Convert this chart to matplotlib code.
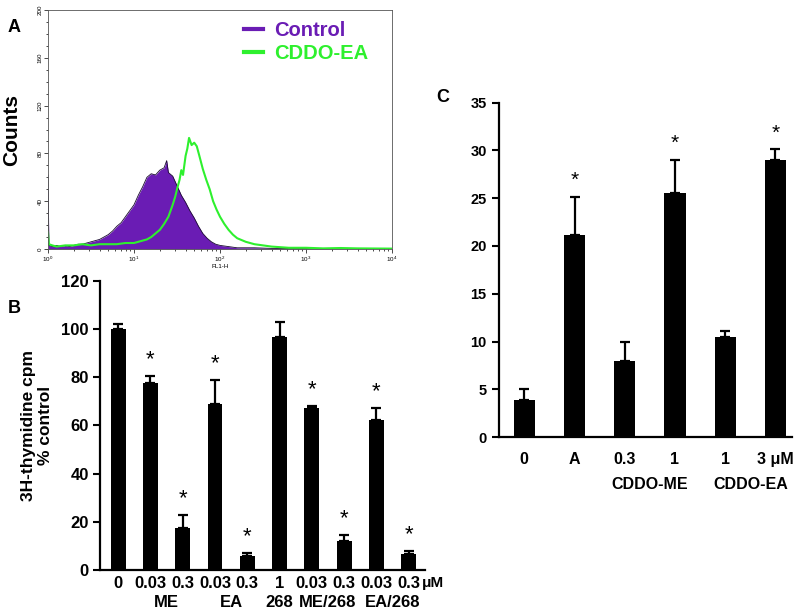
import numpy as np
import matplotlib
matplotlib.use('Agg')
import matplotlib.pyplot as plt
from matplotlib.ticker import MultipleLocator, LogLocator, NullFormatter
from matplotlib.lines import Line2D

plt.rcParams['font.family'] = ['Liberation Sans', 'DejaVu Sans']
plt.rcParams['font.weight'] = 'bold'
plt.rcParams['axes.labelweight'] = 'bold'

# ---- panel A: flow histogram, log10(FL1-H) vs counts
ctrl_log = [0.0, 0.01, 0.05, 0.1, 0.15, 0.2, 0.25, 0.3, 0.35, 0.4, 0.45, 0.5, 0.55,
            0.6, 0.65, 0.7, 0.75, 0.8, 0.85, 0.9, 0.95, 1.0, 1.05, 1.1, 1.15, 1.2,
            1.25, 1.3, 1.35, 1.38, 1.4, 1.45, 1.5, 1.55, 1.6, 1.65, 1.7, 1.75, 1.8,
            1.85, 1.9, 1.95, 2.0, 2.1, 2.2, 2.4, 2.6, 3.0, 4.0]
ctrl_counts = [62, 3, 2, 3, 2, 3, 2, 3, 4, 4, 5, 6, 7,
               8, 10, 12, 15, 19, 22, 27, 32, 37, 45, 52, 60, 63,
               62, 66, 68, 74, 64, 61, 53, 45, 39, 32, 26, 19, 13,
               9, 6, 4, 3, 2, 1, 1, 0.5, 0.3, 0]

ea_log = [0.0, 0.01, 0.05, 0.1, 0.2, 0.3, 0.4, 0.5, 0.6, 0.7, 0.8, 0.9, 1.0, 1.05,
          1.1, 1.15, 1.2, 1.25, 1.3, 1.35, 1.4, 1.45, 1.48, 1.5, 1.53, 1.55, 1.57,
          1.6, 1.62, 1.64, 1.67, 1.7, 1.73, 1.76, 1.8, 1.84, 1.88, 1.92, 1.96, 2.0,
          2.05, 2.1, 2.15, 2.2, 2.3, 2.4, 2.5, 2.6, 2.8, 3.0, 3.2, 3.4, 3.6, 4.0]
ea_counts = [14, 4, 3, 2, 3, 3, 4, 3, 4, 4, 4, 5, 5, 6,
             7, 8, 10, 13, 16, 21, 27, 37, 44, 50, 58, 66, 62,
             78, 84, 93, 87, 89, 86, 78, 67, 58, 50, 40, 33, 27,
             21, 16, 12, 9, 6, 4, 3, 2, 1, 1, 0.5, 0.8, 0.5, 0.3]

# ---- panel B: 3H-thymidine incorporation
b_labels = ['0', '0.03', '0.3', '0.03', '0.3', '1', '0.03', '0.3', '0.03', '0.3']
b_vals = [100, 77.8, 17.3, 69, 6, 96.9, 67.4, 12.2, 62.2, 6.5]
b_err = [2, 2.8, 5.5, 10, 1.2, 6, 0.8, 2.3, 5.2, 1.4]
b_sig = [False, True, True, True, True, False, True, True, True, True]
b_groups = ['ME', 'EA', '268', 'ME/268', 'EA/268']
b_group_idx = [(1, 2), (3, 4), (5, 5), (6, 7), (8, 9)]

# ---- panel C
c_labels = ['0', 'A', '0.3', '1', '1', '3 \u03bcM']
c_vals = [3.9, 21.1, 8.0, 25.5, 10.5, 29.0]
c_err = [1.1, 4.0, 2.0, 3.5, 0.6, 1.1]
c_sig = [False, True, False, True, False, True]
c_groups = ['CDDO-ME', 'CDDO-EA']
c_group_idx = [(2, 3), (4, 5)]

purple = '#6a1cb4'
green = '#2ef02e'

fig = plt.figure(figsize=(8, 6.14), dpi=100)

# ================= A
axA = fig.add_axes([0.06, 0.5945, 0.43, 0.389])
xc = 10 ** np.array(ctrl_log)
xe = 10 ** np.array(ea_log)
axA.fill_between(xc, ctrl_counts, color=purple, lw=0)
axA.plot(xc, ctrl_counts, color='#1a0a30', lw=0.6)
axA.plot(xe, ea_counts, color=green, lw=1.5)
axA.set_xscale('log')
axA.set_xlim(1, 1e4)
axA.set_ylim(0, 200)
axA.yaxis.set_major_locator(MultipleLocator(40))
axA.yaxis.set_minor_locator(MultipleLocator(10))
axA.xaxis.set_minor_locator(LogLocator(base=10, subs=np.arange(2, 10)))
axA.xaxis.set_minor_formatter(NullFormatter())
axA.tick_params(which='both', direction='out', labelsize=4.5, width=0.5, pad=1)
axA.tick_params(which='major', length=3)
axA.tick_params(which='minor', length=1.5)
for lab in axA.get_yticklabels():
    lab.set_rotation(90)
    lab.set_va('center')
    lab.set_fontweight('normal')
for lab in axA.get_xticklabels():
    lab.set_fontweight('normal')
for s in axA.spines.values():
    s.set_linewidth(0.6)
    s.set_color('#555555')
axA.set_xlabel('FL1-H', fontsize=4.5, fontweight='normal', labelpad=0)
axA.set_ylabel('Counts', fontsize=15, fontweight='bold', labelpad=12)
handles = [Line2D([], [], color=purple, lw=3), Line2D([], [], color=green, lw=3)]
leg = axA.legend(handles, ['Control', 'CDDO-EA'], loc='upper right', frameon=False,
                 fontsize=14.5, handlelength=0.9, handletextpad=0.6,
                 bbox_to_anchor=(0.985, 1.03), labelspacing=0.2)
leg.get_texts()[0].set_color(purple)
leg.get_texts()[1].set_color(green)
fig.text(0.018, 0.956, 'A', fontsize=13, ha='center', va='center')

# ================= B
axB = fig.add_axes([0.125, 0.0717, 0.406, 0.4707])
xb = np.arange(len(b_vals))
axB.bar(xb, b_vals, width=0.46, color='black')
axB.errorbar(xb, b_vals, yerr=[np.zeros(len(b_err)), b_err], fmt='none',
             ecolor='black', elinewidth=1.6, capsize=3.5, capthick=1.6)
for i in xb:
    if b_sig[i]:
        axB.annotate('*', (i, b_vals[i] + b_err[i]), xytext=(0, 4),
                     textcoords='offset points', ha='center', va='bottom',
                     fontsize=16, fontweight='normal')
axB.set_xlim(-0.56, 9.5)
axB.set_ylim(0, 120)
axB.yaxis.set_major_locator(MultipleLocator(20))
axB.set_xticks(xb)
axB.set_xticklabels(b_labels)
axB.tick_params(axis='x', length=0, pad=4, labelsize=12)
axB.tick_params(axis='y', direction='out', length=5, width=1.5, labelsize=12, pad=3)
for side in ['top', 'right']:
    axB.spines[side].set_visible(False)
for side in ['left', 'bottom']:
    axB.spines[side].set_linewidth(1.6)
axB.text(9.4, -0.045, '\u03bcM', transform=axB.get_xaxis_transform(),
         ha='left', va='center', fontsize=11)
for name, (i0, i1) in zip(b_groups, b_group_idx):
    axB.text((i0 + i1) / 2, -0.112, name, transform=axB.get_xaxis_transform(),
             ha='center', va='center', fontsize=12)
axB.set_ylabel('3H-thymidine cpm\n% control', fontsize=12.5, fontweight='bold',
               labelpad=6, linespacing=1.15)
fig.text(0.018, 0.497, 'B', fontsize=13, ha='center', va='center')

# ================= C
axC = fig.add_axes([0.624, 0.288, 0.366, 0.545])
xcc = np.arange(len(c_vals))
axC.bar(xcc, c_vals, width=0.42, color='black')
axC.errorbar(xcc, c_vals, yerr=[np.zeros(len(c_err)), c_err], fmt='none',
             ecolor='black', elinewidth=1.6, capsize=3.5, capthick=1.6)
for i in xcc:
    if c_sig[i]:
        axC.annotate('*', (i, c_vals[i] + c_err[i]), xytext=(0, 5),
                     textcoords='offset points', ha='center', va='bottom',
                     fontsize=15, fontweight='normal')
axC.set_xlim(-0.5, 5.33)
axC.set_ylim(0, 35)
axC.yaxis.set_major_locator(MultipleLocator(5))
axC.set_xticks(xcc)
axC.set_xticklabels(c_labels)
axC.tick_params(axis='x', length=0, pad=11, labelsize=11.5)
axC.tick_params(axis='y', direction='out', length=5, width=1.5, labelsize=10.5, pad=4)
for side in ['top', 'right']:
    axC.spines[side].set_visible(False)
for side in ['left', 'bottom']:
    axC.spines[side].set_linewidth(1.6)
for name, (i0, i1) in zip(c_groups, c_group_idx):
    axC.text((i0 + i1) / 2, -0.14, name, transform=axC.get_xaxis_transform(),
             ha='center', va='center', fontsize=11.5)
fig.text(0.554, 0.842, 'C', fontsize=13, ha='center', va='center')

fig.savefig('out.png', dpi=100)
